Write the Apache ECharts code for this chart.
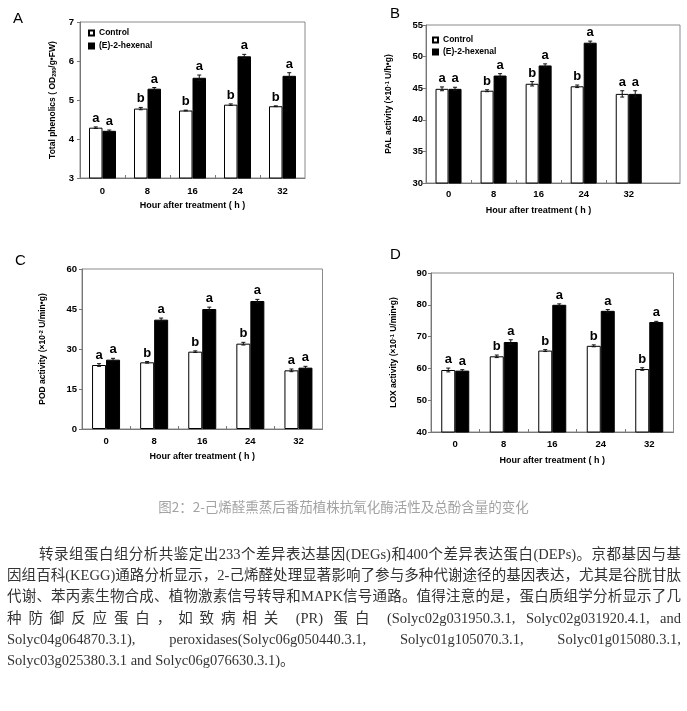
<!DOCTYPE html>
<html>
<head>
<meta charset="utf-8">
<script src="https://cdn.jsdelivr.net/npm/echarts@6/dist/echarts.min.js"></script>
<style>
  body { margin: 0; background: #fff; }
  #chart { position: absolute; left: 0; top: 0; width: 687px; height: 711px; }
  #para {
    position: absolute; left: 7px; top: 544px; width: 674px;
    font-family: "Liberation Serif", "Noto Sans CJK SC", serif;
    font-size: 14.5px; line-height: 21.2px; color: #333;
  }
  #para .ln { text-align: justify; text-align-last: justify; }
  #para .ln.first { text-indent: 32px; }
  #para .ln.last { text-align: left; text-align-last: left; }
</style>
</head>
<body>
<div id="chart"></div>
<div id="para">
  <div class="ln first">转录组蛋白组分析共鉴定出233个差异表达基因(DEGs)和400个差异表达蛋白(DEPs)。京都基因与基</div>
  <div class="ln">因组百科(KEGG)通路分析显示，2-己烯醛处理显著影响了参与多种代谢途径的基因表达，尤其是谷胱甘肽</div>
  <div class="ln">代谢、苯丙素生物合成、植物激素信号转导和MAPK信号通路。值得注意的是，蛋白质组学分析显示了几</div>
  <div class="ln">种防御反应蛋白，如致病相关 (PR) 蛋白 (Solyc02g031950.3.1, Solyc02g031920.4.1, and</div>
  <div class="ln">Solyc04g064870.3.1), peroxidases(Solyc06g050440.3.1, Solyc01g105070.3.1, Solyc01g015080.3.1,</div>
  <div class="ln last">Solyc03g025380.3.1 and Solyc06g076630.3.1)。</div>
</div>
<script>
// hours after treatment
const hours = [0, 8, 16, 24, 32];
const seriesNames = ['Control', '(E)-2-hexenal'];

// A: total phenolics
const phenolCtrl = [4.29, 4.78, 4.73, 4.88, 4.84];
const phenolHex = [4.21, 5.29, 5.57, 6.12, 5.62];
const phenolCtrlErr = [0.02, 0.03, 0.01, 0.02, 0.01];
const phenolHexErr = [0.02, 0.03, 0.07, 0.05, 0.08];
const phenolCtrlSig = ['a', 'b', 'b', 'b', 'b'];
const phenolHexSig = ['a', 'a', 'a', 'a', 'a'];

// B: PAL activity
const palCtrl = [44.9, 44.6, 45.7, 45.3, 44.1];
const palHex = [44.9, 47.0, 48.6, 52.2, 44.1];
const palCtrlErr = [0.3, 0.15, 0.35, 0.2, 0.5];
const palHexErr = [0.25, 0.3, 0.25, 0.25, 0.5];
const palCtrlSig = ['a', 'b', 'b', 'b', 'a'];
const palHexSig = ['a', 'a', 'a', 'a', 'a'];

// C: POD activity
const podCtrl = [24.0, 25.0, 29.0, 32.0, 22.0];
const podHex = [26.0, 41.0, 45.0, 48.0, 23.0];
const podCtrlErr = [0.5, 0.3, 0.3, 0.5, 0.5];
const podHexErr = [0.5, 0.6, 0.7, 0.6, 0.5];
const podCtrlSig = ['a', 'b', 'b', 'b', 'a'];
const podHexSig = ['a', 'a', 'a', 'a', 'a'];

// D: LOX activity
const loxCtrl = [59.5, 63.8, 65.6, 67.1, 59.8];
const loxHex = [59.3, 68.3, 80.0, 78.1, 74.6];
const loxCtrlErr = [0.6, 0.4, 0.3, 0.3, 0.4];
const loxHexErr = [0.3, 0.7, 0.3, 0.4, 0.2];
const loxCtrlSig = ['a', 'b', 'b', 'b', 'b'];
const loxHexSig = ['a', 'a', 'a', 'a', 'a'];

const xName = 'Hour after treatment ( h )';
const caption = '图2：2-己烯醛熏蒸后番茄植株抗氧化酶活性及总酚含量的变化';

const FONT = 'Liberation Sans';
const panels = [
  { tag: 'A', ctrl: phenolCtrl, hex: phenolHex, ce: phenolCtrlErr, he: phenolHexErr, cs: phenolCtrlSig, hs: phenolHexSig,
    yName: 'Total phenolics ( OD{sub|280}/g•FW)', yMin: 3, yMax: 7, yStep: 1,
    grid: { left: 80, top: 22, width: 225, height: 156 }, xMax: 36, bw: 13.5,
    yGap: 23, yLabelMargin: 6, xLabelMargin: 8, xGap: 23, namePad: 0, tagPos: [13, 11] },
  { tag: 'B', ctrl: palCtrl, hex: palHex, ce: palCtrlErr, he: palHexErr, cs: palCtrlSig, hs: palHexSig,
    yName: 'PAL activity (×10{sup|-1} U/h•g)', yMin: 30, yMax: 55, yStep: 5,
    grid: { left: 426, top: 25, width: 254, height: 158 }, xMax: 41.1, bw: 13,
    yGap: 33, yLabelMargin: 3, xLabelMargin: 6.5, xGap: 23.5, namePad: 29, tagPos: [390, 6] },
  { tag: 'C', ctrl: podCtrl, hex: podHex, ce: podCtrlErr, he: podHexErr, cs: podCtrlSig, hs: podHexSig,
    yName: 'POD activity (×10{sup|-2} U/min•g)', yMin: 0, yMax: 60, yStep: 15,
    grid: { left: 82, top: 269, width: 240.5, height: 160 }, xMax: 36, bw: 14,
    yGap: 35, yLabelMargin: 5, xLabelMargin: 7.5, xGap: 23, namePad: 0, tagPos: [15, 253] },
  { tag: 'D', ctrl: loxCtrl, hex: loxHex, ce: loxCtrlErr, he: loxHexErr, cs: loxCtrlSig, hs: loxHexSig,
    yName: 'LOX activity (×10{sup|-1} U/min•g)', yMin: 40, yMax: 90, yStep: 10,
    grid: { left: 431, top: 273, width: 242.5, height: 159 }, xMax: 36, bw: 14,
    yGap: 33, yLabelMargin: 4, xLabelMargin: 7.5, xGap: 24, namePad: 0, tagPos: [390, 247] }
];

const boldText = { fontFamily: FONT, fontWeight: 'bold', color: '#000' };

function errorBars(values, errs, sig, side, bw, gi) {
  return {
    type: 'custom', xAxisIndex: gi, yAxisIndex: gi, z: 5,
    data: hours.map((h, i) => [h, values[i], errs[i]]),
    renderItem: (params, api) => {
      const x = api.value(0), y = api.value(1), e = api.value(2);
      const top = api.coord([x, y + e]);
      const bot = api.coord([x, y - e]);
      const cx = top[0] + side * bw / 2;
      const ls = { stroke: '#111', lineWidth: 1 };
      return {
        type: 'group',
        children: [
          { type: 'line', shape: { x1: cx, y1: top[1], x2: cx, y2: bot[1] }, style: ls },
          { type: 'line', shape: { x1: cx - 2, y1: top[1], x2: cx + 2, y2: top[1] }, style: ls },
          { type: 'line', shape: { x1: cx - 2, y1: bot[1], x2: cx + 2, y2: bot[1] }, style: ls },
          { type: 'text', x: cx, y: top[1] - 2,
            style: { text: sig[params.dataIndex], fontFamily: FONT, fontWeight: 'bold', fontSize: 13,
                     fill: '#000', align: 'center', verticalAlign: 'bottom' } }
        ]
      };
    }
  };
}

const grid = [], xAxis = [], yAxis = [], series = [], title = [];
panels.forEach((p, gi) => {
  grid.push(Object.assign({ show: true, borderColor: '#8a8a8a', borderWidth: 1 }, p.grid));
  xAxis.push({
    type: 'value', gridIndex: gi, min: -4, max: p.xMax,
    axisLine: { show: true, onZero: false, lineStyle: { color: '#777' } },
    splitLine: { show: false },
    axisTick: { show: true, inside: true, length: 3, customValues: [4, 12, 20, 28], lineStyle: { color: '#777' } },
    axisLabel: { customValues: hours, margin: p.xLabelMargin, fontSize: 9.5, ...boldText },
    name: xName, nameLocation: 'middle', nameGap: p.xGap,
    nameTextStyle: { fontSize: 9, ...boldText, padding: [0, p.namePad, 0, 0] }
  });
  yAxis.push({
    type: 'value', gridIndex: gi, min: p.yMin, max: p.yMax, interval: p.yStep,
    axisLine: { show: true, onZero: false, lineStyle: { color: '#777' } },
    splitLine: { show: false },
    axisTick: { show: true, inside: false, length: 3, lineStyle: { color: '#777' } },
    axisLabel: { margin: p.yLabelMargin, fontSize: 9.5, ...boldText },
    name: p.yName, nameLocation: 'middle', nameGap: p.yGap,
    nameTextStyle: {
      fontSize: 8.5, ...boldText,
      rich: {
        sub: { fontSize: 5.5, fontFamily: FONT, fontWeight: 'bold', color: '#000', verticalAlign: 'bottom' },
        sup: { fontSize: 5.5, fontFamily: FONT, fontWeight: 'bold', color: '#000', verticalAlign: 'top' }
      }
    }
  });
  series.push({
    name: seriesNames[0], type: 'bar', xAxisIndex: gi, yAxisIndex: gi,
    barWidth: p.bw, barGap: '0%',
    itemStyle: { color: '#fff', borderColor: '#000', borderWidth: 1 },
    data: hours.map((h, i) => [h, p.ctrl[i]])
  });
  series.push({
    name: seriesNames[1], type: 'bar', xAxisIndex: gi, yAxisIndex: gi,
    barWidth: p.bw, barGap: '0%',
    itemStyle: { color: '#000', borderColor: '#000', borderWidth: 1 },
    data: hours.map((h, i) => [h, p.hex[i]])
  });
  series.push(errorBars(p.ctrl, p.ce, p.cs, -1, p.bw, gi));
  series.push(errorBars(p.hex, p.he, p.hs, 1, p.bw, gi));
  title.push({ text: p.tag, left: p.tagPos[0], top: p.tagPos[1], padding: 0,
    textStyle: { fontFamily: FONT, fontSize: 15, fontWeight: 'normal', color: '#000' } });
});

title.push({ text: caption, left: 'center', top: 500, padding: 0,
  textStyle: { fontFamily: 'Noto Sans CJK SC', fontSize: 13.5, fontWeight: 'normal', color: '#a3a3a3' } });

const legendBase = {
  data: seriesNames, orient: 'vertical', icon: 'rect', itemWidth: 5, itemHeight: 5,
  padding: 0, selectedMode: false,
  textStyle: { fontSize: 8.5, lineHeight: 10, ...boldText }
};

const chart = echarts.init(document.getElementById('chart'));
chart.setOption({
  animation: false,
  backgroundColor: '#fff',
  title,
  legend: [
    Object.assign({}, legendBase, { left: 88, top: 28, itemGap: 3 }),
    Object.assign({}, legendBase, { left: 432, top: 35, itemGap: 2 })
  ],
  grid, xAxis, yAxis, series
});
</script>
</body>
</html>
